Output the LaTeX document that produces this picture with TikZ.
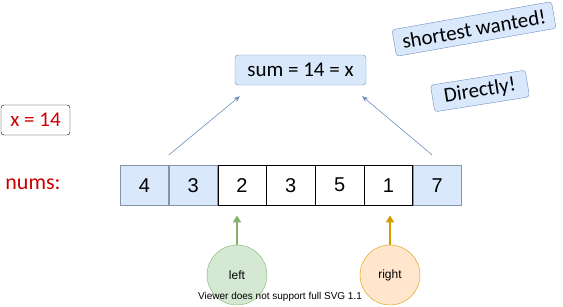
\documentclass[tikz,border=0pt]{standalone}
\usepackage{fontspec}
\setmainfont{Carlito}
\newfontfamily\arialfont{Liberation Sans}
\usepackage{tikz}
\usetikzlibrary{arrows.meta,positioning,calc}
\definecolor{blue2}{HTML}{6C8EBF}
\definecolor{lightblue}{HTML}{DAE8FC}
\definecolor{cellgray}{HTML}{8495AB}
\definecolor{green2}{HTML}{82B366}
\definecolor{lightgreen}{HTML}{D5E8D4}
\definecolor{orange2}{HTML}{D79B00}
\definecolor{lightorange}{HTML}{FFE6CC}
\definecolor{red2}{HTML}{CC0000}
\tikzset{
  notebox/.style={draw=blue2, rounded corners=3pt, fill=lightblue,
    inner sep=0pt, font=\fontsize{21}{23}\selectfont, text=black},
  cellwhite/.style={draw=black, minimum width=48.4pt, minimum height=40pt,
    inner sep=0pt, font=\arialfont\fontsize{20}{22}\selectfont},
  cellblue/.style={cellwhite, draw=cellgray, fill=lightblue},
  pointer/.style={circle, minimum size=60pt, inner sep=0pt,
    font=\arialfont\fontsize{12}{14}\selectfont},
  flow/.style={-{Stealth[length=6pt,width=5pt]}, draw=blue2, semithick},
  pointflow/.style={-{Triangle[length=7pt,width=8pt]}, line width=1.6pt}
}

\begin{document}
\begin{tikzpicture}[x=1pt, y=-1pt]
\useasboundingbox (0,0) rectangle (563,306);

\node[notebox, minimum width=131pt, minimum height=30pt] (sum) at (300.5,70) {sum = 14 = x};
\node[draw=black, rounded corners=3pt, minimum width=69pt, minimum height=30pt,
  inner sep=0pt, text=red2, font=\fontsize{21}{23}\selectfont] (xval) at (35.5,120) {x = 14};
\node[text=red2, font=\fontsize{22}{24}\selectfont] (nums) at (33,184) {nums:};

\node[notebox, rotate=10, minimum width=162pt, minimum height=27pt] (short) at (474,29) {shortest wanted!};
\node[notebox, rotate=9, minimum width=96pt, minimum height=27pt] (direct) at (480,91) {Directly!};

\node[cellblue, anchor=north west] (c1) at (120,165) {4};
\node[cellblue, right=0pt of c1] (c2) {3};
\node[cellwhite, right=0pt of c2] (c3) {2};
\node[cellwhite, right=0pt of c3] (c4) {3};
\node[cellwhite, right=0pt of c4] (c5) {5};
\node[cellwhite, right=0pt of c5] (c6) {1};
\node[cellblue, right=0pt of c6] (c7) {7};

\node[pointer, draw=green2, fill=lightgreen] (left) at (237,275) {left};
\node[pointer, draw=orange2, fill=lightorange] (right) at (390,275) {right};

\draw[flow] ([yshift=10pt]c1.north east) -- ([xshift=5pt,yshift=-11pt]sum.south west);
\draw[flow] ([xshift=-5pt,yshift=10pt]c7.north) -- ([xshift=-4pt,yshift=-11pt]sum.south east);
\draw[pointflow, green2, shorten >=10pt] (left.north) -- (left.north |- c3.south);
\draw[pointflow, orange2, shorten >=10pt] (right.north) -- (right.north |- c6.south);

\node[font=\arialfont\fontsize{10}{12}\selectfont] (viewer) at (280,297) {Viewer does not support full SVG 1.1};
\end{tikzpicture}
\end{document}
